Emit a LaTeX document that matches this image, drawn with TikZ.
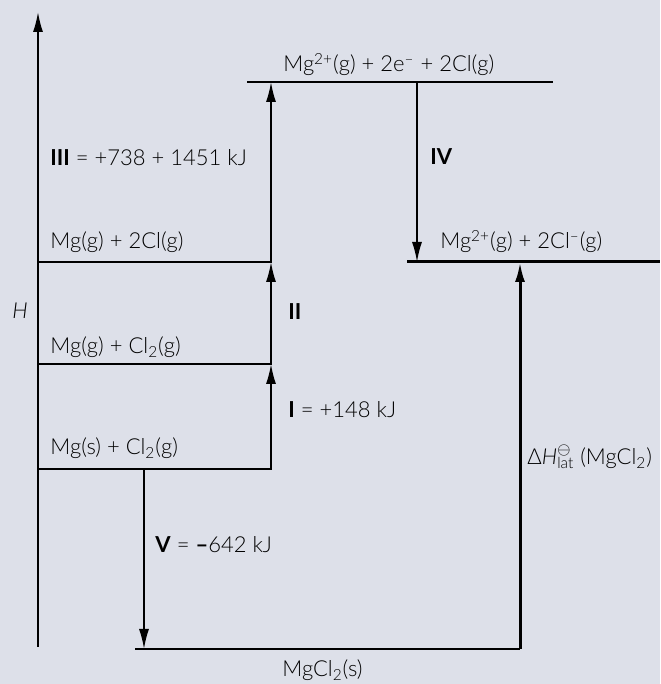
\documentclass[tikz,border=0pt]{standalone}
\usepackage{fontspec}
\setmainfont{Lato}[UprightFont=* Light, BoldFont=* Bold, ItalicFont=* Light Italic]
\usepackage{tikz}
\usetikzlibrary{arrows.meta, positioning}
\definecolor{bgpaper}{RGB}{221,224,233}

\begin{document}
\begin{tikzpicture}[x=0.5pt,y=0.5pt, font=\fontsize{11}{13}\selectfont,
  lvl/.style={line width=0.8pt},
  lvlthick/.style={line width=1.5pt},
  uparr/.style={-{Latex[length=10pt,width=5pt]}, line width=0.8pt},
  lbl/.style={anchor=base west, inner sep=0pt}]

% --- sfondo e dimensioni
\fill[bgpaper] (0,0) rectangle (660,684);
\useasboundingbox (0,0) rectangle (660,684);

% --- Asse H
\coordinate (hBot) at (38,37);
\coordinate (hTop) at (38,672);
\draw[uparr] (hBot) -- (hTop);
\node[lbl] (hLbl) at (12,365) {\textit{H}};

% --- Livelli
\coordinate (sL) at (38,215);  \coordinate (sR) at (272,215);
\coordinate (gL) at (38,320);  \coordinate (gR) at (272,320);
\coordinate (aL) at (38,422);  \coordinate (aR) at (272,422);
\coordinate (tL) at (247,602); \coordinate (tR) at (553,602);
\coordinate (iL) at (407,422); \coordinate (iR) at (660,422);
\coordinate (mL) at (135,35);  \coordinate (mR) at (520,35);
\draw[lvl] (sL) -- (sR);
\draw[lvl] (gL) -- (gR);
\draw[lvl] (aL) -- (aR);
\draw[lvl] (tL) -- (tR);
\draw[lvlthick] (iL) -- (iR);
\draw[lvl] (mL) -- (mR);

\node[lbl] (sLbl) at (50,229) {Mg(s) + Cl\textsubscript{2}(g)};
\node[lbl] (gLbl) at (50,330) {Mg(g) + Cl\textsubscript{2}(g)};
\node[lbl] (aLbl) at (50,435) {Mg(g) + 2Cl(g)};
\node[lbl] (tLbl) at (283,612) {Mg\textsuperscript{2+}(g) + 2e\textsuperscript{\textendash} + 2Cl(g)};
\node[lbl] (iLbl) at (440,435) {Mg\textsuperscript{2+}(g) + 2Cl\textsuperscript{\textendash}(g)};
\node[lbl] (mLbl) at (282,7) {MgCl\textsubscript{2}(s)};

% --- Passaggi I, II, III
\coordinate (ssR) at (271,215);
\coordinate (ggR) at (271,320);
\coordinate (aaR) at (271,422);
\coordinate (ttL) at (271,602);
\draw[uparr] (ssR) -- (ggR);
\draw[uparr] (ggR) -- (aaR);
\draw[uparr] (aaR) -- (ttL);
\node[lbl] (iStep) at (288,266) {\textbf{I} = +148 kJ};
\node[lbl] (iiStep) at (288,364) {\textbf{II}};
\node[lbl] (iiiStep) at (50,518) {\textbf{III} = +738 + 1451 kJ};

% --- Passaggio IV
\coordinate (ivTop) at (417,602);
\coordinate (ivBot) at (417,422);
\draw[uparr] (ivTop) -- (ivBot);
\node[lbl] (ivStep) at (430,519) {\textbf{IV}};

% --- Passaggio V
\coordinate (vTop) at (144,215);
\coordinate (vBot) at (144,35);
\draw[uparr] (vTop) -- (vBot);
\node[lbl] (vStep) at (155,131) {\textbf{V} = \textbf{\textendash}642 kJ};

% --- Entalpia reticolare
\coordinate (latBot) at (520,35);
\coordinate (latTop) at (520,422);
\draw[uparr, line width=1.5pt] (latBot) -- (latTop);
\node[lbl] (latLbl) at (527,219) {Δ\textit{H}\rlap{\raisebox{1.5pt}{\textsuperscript{$\ominus$}}}\textsubscript{lat} (MgCl\textsubscript{2})};
\end{tikzpicture}
\end{document}
